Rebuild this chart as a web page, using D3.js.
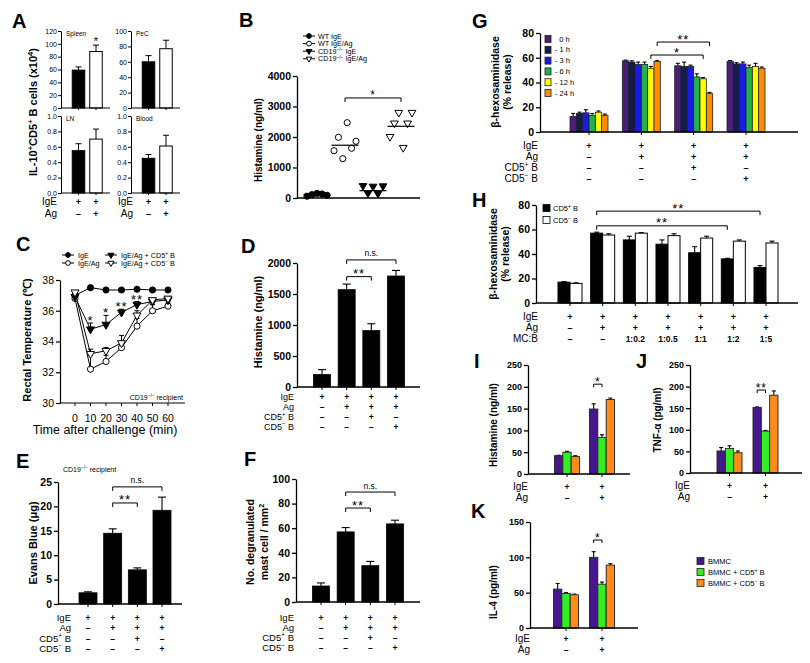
<!DOCTYPE html>
<html><head><meta charset="utf-8">
<script src="https://cdn.jsdelivr.net/npm/d3@7"></script>
<style>body{margin:0;background:#fff}svg{display:block;background:#fff}</style>
</head><body>
<script>
// ================= DATA =================
// Panel A
const aCols = ["IgE", "IgE/Ag"];
const aRowLabels = ["IgE", "Ag"];
const aRowSigns = [["+", "+"], ["–", "+"]];
const aSpleen = [59, 88], aSpleenErr = [5, 10];
const aPeC = [60, 77], aPeCErr = [8, 11];
const aLN = [0.55, 0.70], aLNErr = [0.09, 0.13];
const aBlood = [0.45, 0.61], aBloodErr = [0.05, 0.14];
const aTicksSpleen = [0, 20, 40, 60, 80, 100, 120];
const aTicksPeC = [0, 20, 40, 60, 80, 100];
const aTicksFrac = [0, 0.2, 0.4, 0.6, 0.8, 1.0];
// Panel B
const bGroups = ["WT IgE", "WT IgE/Ag", "CD19{−/−} IgE", "CD19{−/−} IgE/Ag"];
const bWTIgE = [60, 110, 150, 130, 90];
const bWTIgEAg = [1550, 1990, 1290, 2470, 1630, 1860];
const bKOIgE = [400, 160, 380, 150, 390];
const bKOIgEAg = [2010, 2450, 2800, 1650, 2450, 2800];
const bMeans = [100, 1730, 240, 2350];
const bTicks = [0, 1000, 2000, 3000, 4000];
const bSig = [{ a: 1, b: 3, label: "*", at: 3280 }];
// Panel C
const cSeries = ["IgE", "IgE/Ag", "IgE/Ag + CD5{+} B", "IgE/Ag + CD5{−} B"];
const cTimes = [0, 10, 20, 30, 40, 50, 60];
const cIgE = [37.0, 37.5, 37.35, 37.35, 37.4, 37.35, 37.35];
const cIgEAg = [36.8, 32.2, 32.7, 33.6, 35.0, 36.0, 36.3];
const cCD5pos = [36.9, 34.8, 35.1, 35.9, 36.4, 36.6, 36.7];
const cCD5neg = [37.2, 33.2, 33.4, 33.9, 35.7, 36.7, 36.8];
const cIgEErr = [0.1, 0.1, 0.1, 0.1, 0.1, 0.1, 0.1];
const cIgEAgErr = [0.1, 0.9, 0.4, 0.3, 0.5, 0.4, 0.2];
const cCD5posErr = [0.1, 0.4, 0.6, 0.2, 0.2, 0.1, 0.1];
const cCD5negErr = [0.1, 0.3, 0.2, 0.5, 0.3, 0.1, 0.1];
const cStars = [{ t: 10, label: "*" }, { t: 20, label: "*" }, { t: 30, label: "**" }, { t: 40, label: "**" }];
const cTicksY = [30, 32, 34, 36, 38];
// Panels D, E, F (shared treatment table)
const treatCols = ["IgE", "IgE/Ag", "IgE/Ag+CD5+B", "IgE/Ag+CD5−B"];
const treatRowLabels = ["IgE", "Ag", "CD5{+} B", "CD5{−} B"];
const treatSigns = [["+", "+", "+", "+"], ["–", "+", "+", "+"], ["–", "–", "+", "–"], ["–", "–", "–", "+"]];
const dHist = [200, 1570, 910, 1790], dHistErr = [80, 90, 110, 90];
const dTicks = [0, 500, 1000, 1500, 2000];
const dSig = [{ a: 1, b: 2, label: "**", at: 1780 }, { a: 1, b: 3, label: "n.s.", at: 2050 }];
const eEvans = [2.3, 14.5, 7.0, 19.2], eEvansErr = [0.2, 0.9, 0.4, 2.7];
const eTicks = [0, 5, 10, 15, 20, 25];
const eSig = [{ a: 1, b: 2, label: "**", at: 20.7 }, { a: 1, b: 3, label: "n.s.", at: 24.0 }];
const fMast = [13, 57, 29.5, 63.5], fMastErr = [2.5, 3.5, 3.5, 3];
const fTicks = [0, 20, 40, 60, 80, 100];
const fSig = [{ a: 1, b: 2, label: "**", at: 76.4 }, { a: 1, b: 3, label: "n.s.", at: 89.4 }];
// Panel G
const gTimes = ["  0 h", "- 1 h", "- 3 h", "- 6 h", "- 12 h", "- 24 h"];
const g0h = [12.5, 57.5, 53.5, 57], g0hErr = [2.5, 0.6, 2, 0.8];
const gm1h = [15, 56.5, 53, 55], gm1hErr = [1, 1, 3.5, 1];
const gm3h = [15.5, 54.5, 53, 55], gm3hErr = [2.5, 2, 1, 1.5];
const gm6h = [13.5, 54.5, 44.5, 52], gm6hErr = [1.5, 2, 2.5, 2];
const gm12h = [16, 51.5, 43, 53], gm12hErr = [1, 1.5, 1, 2.5];
const gm24h = [13.5, 57, 31, 51.5], gm24hErr = [1, 0.6, 1, 1];
const gTicks = [0, 20, 40, 60, 80];
const gSig = [{ ga: 1, gb: 2, s: 5, label: "**", at: 72.7 }, { ga: 1, gb: 2, s: 4, label: "*", at: 62.2 }];
// Panel H
const hCols = ["c1", "c2", "c3", "c4", "c5", "c6", "c7"];
const hSeries = ["CD5{+} B", "CD5{−} B"];
const hRowLabels = ["IgE", "Ag", "MC:B"];
const hSigns = [["+", "+", "+", "+", "+", "+", "+"], ["–", "+", "+", "+", "+", "+", "+"], ["–", "–", "1:0.2", "1:0.5", "1:1", "1:2", "1:5"]];
const hCD5pos = [17, 57, 51.5, 48, 41, 36, 29], hCD5posErr = [0.5, 0.8, 3, 3.5, 5, 0.5, 1.5];
const hCD5neg = [16, 55.5, 57, 55, 53, 50.5, 49], hCD5negErr = [0.5, 1, 0.5, 1.5, 1.5, 1, 1.5];
const hTicks = [0, 20, 40, 60, 80];
const hSig = [{ ga: 1, gb: 6, label: "**", at: 75 }, { ga: 1, gb: 5, label: "**", at: 63 }];
// Panels I, J, K
const ijkSeries = ["BMMC", "BMMC + CD5{+} B", "BMMC + CD5{−} B"];
const ijkCols = ["IgE", "IgE/Ag"];
const ijkRowLabels = ["IgE", "Ag"];
const ijkSigns = [["+", "+"], ["–", "+"]];
const iBMMC = [42, 149], iBMMCErr = [1, 12];
const iCD5pos = [50, 84], iCD5posErr = [2, 6];
const iCD5neg = [40, 171], iCD5negErr = [2, 3];
const jBMMC = [51, 152], jBMMCErr = [8, 1];
const jCD5pos = [57, 97], jCD5posErr = [6, 1.5];
const jCD5neg = [47, 180], jCD5negErr = [4, 10];
const kBMMC = [55, 100], kBMMCErr = [8, 8];
const kCD5pos = [49, 62], kCD5posErr = [1, 3];
const kCD5neg = [47, 89], kCD5negErr = [1, 2];
const ijTicks = [0, 50, 100, 150, 200, 250];
const kTicks = [0, 50, 100, 150];
const iSig = { label: "*", at: 206 }, jSig = { label: "**", at: 192 }, kSig = { label: "*", at: 124.5 };

// ================= STYLE =================
const FONT = "'Liberation Sans', Arial, Helvetica, sans-serif";
const gColors = ["#4a1f7c", "#141c4c", "#1a1ae6", "#22b14c", "#ffff00", "#ff8c00"];
const ijkColors = ["#46168c", "#33ee22", "#ff8c1a"];

const svg = d3.select("body").append("svg").attr("width", 810).attr("height", 663);

function rich(t, str, fs) {
  const parts = String(str).split(/(\{[^}]*\})/).filter(p => p.length);
  let shifted = false;
  parts.forEach(p => {
    if (p[0] === "{") {
      t.append("tspan").attr("dy", -fs * 0.38).attr("font-size", fs * 0.68).text(p.slice(1, -1));
      shifted = true;
    } else {
      const ts = t.append("tspan").text(p);
      if (shifted) { ts.attr("dy", fs * 0.38); shifted = false; }
    }
  });
}
function T(x, y, str, o = {}) {
  const fs = o.size || 10;
  const t = svg.append("text").attr("x", x).attr("y", y)
    .attr("font-family", FONT).attr("font-size", fs)
    .attr("font-weight", o.bold ? "bold" : "normal")
    .attr("text-anchor", o.anchor || "start").attr("fill", o.fill || "#000")
    .style("white-space", "pre");
  if (o.rotate) t.attr("transform", `rotate(${o.rotate},${x},${y})`);
  if (o.ls) t.attr("letter-spacing", o.ls);
  rich(t, str, fs);
  return t;
}
function line(x1, y1, x2, y2, sw = 1, col = "#000") {
  svg.append("line").attr("x1", x1).attr("y1", y1).attr("x2", x2).attr("y2", y2)
    .attr("stroke", col).attr("stroke-width", sw);
}
function yAxis(x, y, ticks, fmt, o = {}) {
  const g = svg.append("g").attr("transform", `translate(${x},0)`)
    .call(d3.axisLeft(y).tickValues(ticks).tickFormat(fmt).tickSize(o.ts || 4).tickSizeOuter(0).tickPadding(o.pad || 2));
  g.select(".domain").attr("stroke", "#000").attr("stroke-width", o.sw || 1.3);
  g.selectAll(".tick line").attr("stroke", "#000").attr("stroke-width", o.sw || 1.3);
  g.selectAll(".tick text").attr("font-family", FONT).attr("font-size", o.size || 10)
    .attr("font-weight", o.bold === false ? "normal" : "bold").attr("fill", "#000");
  return g;
}
function xBase(x0, x1, y0, centers, o = {}) {
  line(x0, y0, x1, y0, o.sw || 1.3);
  centers.forEach(c => line(c, y0, c, y0 + (o.tl || 3), 1));
}
function bars(cfg) {
  const xg = d3.scalePoint().domain(cfg.groups).range(cfg.centerRange);
  const xi = d3.scaleBand().domain(cfg.series).range([-cfg.groupW / 2, cfg.groupW / 2]).paddingInner(cfg.pad || 0);
  const y = cfg.y;
  cfg.series.forEach((s, si) => {
    cfg.groups.forEach((gname, gi) => {
      const v = cfg.values[si][gi], e = cfg.errs[si][gi];
      const w = xi.bandwidth(), x = xg(gname) + xi(s), cx = x + w / 2;
      const capW = cfg.capW || w * 0.55;
      line(cx, y(v), cx, y(v + e), cfg.esw || 1.1);
      line(cx - capW / 2, y(v + e), cx + capW / 2, y(v + e), cfg.esw || 1.1);
      svg.append("rect").attr("x", x).attr("y", y(v)).attr("width", w).attr("height", y(0) - y(v))
        .attr("fill", typeof cfg.fills === "function" ? cfg.fills(si, gi) : cfg.fills[si])
        .attr("stroke", cfg.stroke || "#000").attr("stroke-width", cfg.sw || 0.8);
    });
  });
  return { xg, xi, centers: cfg.groups.map(g => xg(g)), bx: (gi, si) => xg(cfg.groups[gi]) + xi(cfg.series[si]) + xi.bandwidth() / 2 };
}
function bracket(x1, x2, yb, label, o = {}) {
  const h = o.h || 4;
  svg.append("path").attr("d", `M${x1},${yb + h}V${yb}H${x2}V${yb + h}`)
    .attr("fill", "none").attr("stroke", "#000").attr("stroke-width", 1);
  const star = label.includes("*");
  T((x1 + x2) / 2, star ? yb + 1.5 : yb - 3.5, label, { size: star ? (o.ss || 13) : 8.5, anchor: "middle", ls: star ? 1 : 0 });
}
function rows(labelX, ys, labels, signs, centers, o = {}) {
  labels.forEach((lab, r) => {
    T(labelX, ys[r], lab, { size: o.ls || 10, anchor: "end" });
    signs[r].forEach((s, i) => T(centers[i], ys[r], s, { size: (s.length > 1 ? (o.ms || 8.5) : (o.ss || 9)), bold: true, anchor: "middle" }));
  });
}
function marker(cx, cy, shape, size) {
  svg.append("path")
    .attr("d", d3.symbol().type(shape.tri ? d3.symbolTriangle : d3.symbolCircle).size(size)())
    .attr("transform", `translate(${cx},${cy})${shape.down ? " rotate(180)" : ""}`)
    .attr("fill", shape.fill).attr("stroke", "#000").attr("stroke-width", 1);
}
function letter(x, y, s) { T(x, y, s, { size: 20, bold: true }); }

// ================= PANEL A =================
letter(12, 28, "A");
function aPanel(axisX, y0, yTop, dom, ticks, fmt, vals, errs, name) {
  const y = d3.scaleLinear().domain(dom).range([y0, yTop]);
  yAxis(axisX, y, ticks, fmt, { size: 7, bold: false, ts: 3, sw: 1, pad: 1 });
  const r = bars({ groups: aCols, centerRange: [axisX + 17.5, axisX + 35], series: ["v"], values: [vals], errs: [errs],
    fills: (si, gi) => gi ? "#fff" : "#000", groupW: 12.5, y, sw: 1, capW: 6, esw: 1 });
  xBase(axisX, axisX + 49, y0, r.centers, { sw: 1, tl: 2 });
  T(axisX + 5, yTop + 5, name, { size: 6.5 });
  return { y, r };
}
const aS = aPanel(61, 108, 31, [0, 120], aTicksSpleen, d3.format("d"), aSpleen, aSpleenErr, "Spleen");
T(aS.r.centers[1], aS.y(aSpleen[1] + aSpleenErr[1]) - 0.5, "*", { size: 11, anchor: "middle" });
aPanel(131, 108, 31, [0, 100], aTicksPeC, d3.format("d"), aPeC, aPeCErr, "PeC");
const aL = aPanel(61, 193, 116, [0, 1], aTicksFrac, d3.format(".1f"), aLN, aLNErr, "LN");
const aB = aPanel(131, 193, 116, [0, 1], aTicksFrac, d3.format(".1f"), aBlood, aBloodErr, "Blood");
rows(57, [205, 216.5], aRowLabels, aRowSigns, aL.r.centers, { ls: 10, ss: 9 });
rows(133, [205, 216.5], aRowLabels, aRowSigns, aB.r.centers, { ls: 10, ss: 9 });
T(37, 112, "IL-10{+}CD5{+} B cells (x10{4})", { size: 11, bold: true, anchor: "middle", rotate: -90 });

// ================= PANEL B =================
letter(239, 27, "B");
{
  const y = d3.scaleLinear().domain([0, 4000]).range([198, 76]);
  yAxis(297, y, bTicks, d3.format("d"), { size: 10.5 });
  const x = d3.scalePoint().domain(bGroups).range([317, 401]);
  line(297, 198, 420, 198, 1.3);
  const sets = [bWTIgE, bWTIgEAg, bKOIgE, bKOIgEAg];
  const shapes = [{ fill: "#000" }, { fill: "#fff" }, { tri: 1, down: 1, fill: "#000" }, { tri: 1, down: 1, fill: "#fff" }];
  sets.forEach((vals, gi) => {
    const n = vals.length, spread = gi % 2 ? 22 : 20;
    vals.forEach((v, i) => marker(x(bGroups[gi]) + (i / (n - 1) - 0.5) * spread, y(v), shapes[gi], gi < 2 ? 30 : 26));
    line(x(bGroups[gi]) - 13.5, y(bMeans[gi]), x(bGroups[gi]) + 13.5, y(bMeans[gi]), 1.2);
  });
  bSig.forEach(s => bracket(x(bGroups[s.a]), x(bGroups[s.b]), y(s.at), s.label, { ss: 12 }));
  // legend
  bGroups.forEach((nm, i) => {
    const ly = 36 + i * 7.6;
    line(303, ly, 315, ly, 1);
    marker(309, ly, shapes[i], i < 2 ? 18 : 14);
    T(318, ly + 2.6, nm, { size: 7.2 });
  });
  T(262, 140, "Histamine (ng/ml)", { size: 10, bold: true, anchor: "middle", rotate: -90 });
}

// ================= PANEL C =================
letter(16, 251, "C");
{
  const x = d3.scaleLinear().domain([0, 60]).range([75, 168]);
  const y = d3.scaleLinear().domain([30, 38]).range([403, 280]);
  yAxis(60, y, cTicksY, d3.format("d"), { size: 10.5, bold: false, ts: 4, sw: 1.2 });
  line(60, 403, 185, 403, 1.2);
  cTimes.forEach(t => {
    line(x(t), 403, x(t), 406, 1);
    T(x(t), 422, String(t), { size: 10.5, anchor: "middle" });
  });
  T(105, 434, "Time after challenge (min)", { size: 12.5, anchor: "middle" });
  T(31, 340, "Rectal Temperature (℃)", { size: 11, bold: true, anchor: "middle", rotate: -90 });
  const series = [cIgE, cIgEAg, cCD5pos, cCD5neg];
  const errs = [cIgEErr, cIgEAgErr, cCD5posErr, cCD5negErr];
  const shapes = [{ fill: "#000" }, { fill: "#fff" }, { tri: 1, down: 1, fill: "#000" }, { tri: 1, down: 1, fill: "#fff" }];
  const ln = d3.line().x((d, i) => x(cTimes[i])).y(d => y(d));
  series.forEach(s => svg.append("path").attr("d", ln(s)).attr("fill", "none").attr("stroke", "#000").attr("stroke-width", 1));
  series.forEach((s, si) => s.forEach((v, i) => {
    const e = errs[si][i];
    line(x(cTimes[i]), y(v), x(cTimes[i]), y(v + e), 1);
    line(x(cTimes[i]) - 2.5, y(v + e), x(cTimes[i]) + 2.5, y(v + e), 1);
  }));
  series.forEach((s, si) => s.forEach((v, i) => marker(x(cTimes[i]), y(v), shapes[si], si < 2 ? 30 : 28)));
  cStars.forEach(st => {
    const i = cTimes.indexOf(st.t);
    T(x(st.t), y(cCD5pos[i] + cCD5posErr[i]) + 2, st.label, { size: 13, anchor: "middle", ls: 1 });
  });
  T(183, 400, "CD19{−/−} recipient", { size: 7, anchor: "end" });
  // legend
  const lpos = [[62, 255], [62, 263], [105, 255], [105, 263]];
  cSeries.forEach((nm, i) => {
    const [lx, ly] = lpos[i];
    line(lx, ly, lx + 12, ly, 1);
    marker(lx + 6, ly, shapes[i], i < 2 ? 18 : 16);
    T(lx + 16, ly + 2.6, nm, { size: 7.2 });
  });
}

// ================= PANEL D =================
letter(241, 253, "D");
{
  const y = d3.scaleLinear().domain([0, 2000]).range([387, 263]);
  yAxis(297, y, dTicks, d3.format("d"), { size: 10.5 });
  const r = bars({ groups: treatCols, centerRange: [322, 396], series: ["v"], values: [dHist], errs: [dHistErr], fills: ["#000"], groupW: 17, y, capW: 8 });
  xBase(297, 420, 387, r.centers);
  dSig.forEach(s => bracket(r.centers[s.a], r.centers[s.b], y(s.at), s.label));
  rows(294, [399.5, 409.5, 419.5, 429.5], treatRowLabels, treatSigns, r.centers, { ls: 9, ss: 8.5 });
  T(262, 322, "Histamine (ng/ml)", { size: 11, bold: true, anchor: "middle", rotate: -90 });
}

// ================= PANEL E =================
letter(16, 468, "E");
{
  const y = d3.scaleLinear().domain([0, 25]).range([604, 482]);
  yAxis(58, y, eTicks, d3.format("d"), { size: 10.5 });
  const r = bars({ groups: treatCols, centerRange: [88, 162], series: ["v"], values: [eEvans], errs: [eEvansErr], fills: ["#000"], groupW: 18, y, capW: 8 });
  xBase(58, 182, 604, r.centers);
  eSig.forEach(s => bracket(r.centers[s.a], r.centers[s.b], y(s.at), s.label));
  rows(71, [621, 631.3, 641.6, 651.9], treatRowLabels, treatSigns, r.centers, { ls: 9.5, ss: 8.5 });
  T(37, 543, "Evans Blue (μg)", { size: 11, bold: true, anchor: "middle", rotate: -90 });
  T(63, 472, "CD19{−/−} recipient", { size: 7 });
}

// ================= PANEL F =================
letter(244, 466, "F");
{
  const y = d3.scaleLinear().domain([0, 100]).range([602, 479]);
  yAxis(296, y, fTicks, d3.format("d"), { size: 10.5 });
  const r = bars({ groups: treatCols, centerRange: [321, 395], series: ["v"], values: [fMast], errs: [fMastErr], fills: ["#000"], groupW: 17, y, capW: 8 });
  xBase(296, 420, 602, r.centers);
  fSig.forEach(s => bracket(r.centers[s.a], r.centers[s.b], y(s.at), s.label));
  rows(294, [620.5, 630.8, 641.1, 651.4], treatRowLabels, treatSigns, r.centers, { ls: 9.5, ss: 8.5 });
  T(254, 542, "No. degranulated", { size: 10.5, bold: true, anchor: "middle", rotate: -90 });
  T(268, 542, "mast cell / mm{2}", { size: 10.5, bold: true, anchor: "middle", rotate: -90 });
}

// ================= PANEL G =================
letter(472, 28, "G");
{
  const y = d3.scaleLinear().domain([0, 80]).range([132, 33]);
  yAxis(540, y, gTicks, d3.format("d"), { size: 10.5 });
  const vals = [g0h, gm1h, gm3h, gm6h, gm12h, gm24h];
  const errs = [g0hErr, gm1hErr, gm3hErr, gm6hErr, gm12hErr, gm24hErr];
  const r = bars({ groups: treatCols, centerRange: [589, 746], series: gTimes, values: vals, errs, fills: gColors, groupW: 38, y, capW: 4, sw: 0.8, stroke: "#222" });
  xBase(540, 798, 132, r.centers);
  gSig.forEach(s => bracket(r.bx(s.ga, s.s), r.bx(s.gb, s.s), y(s.at), s.label));
  rows(538, [148.5, 159.5, 170.5, 181.5], treatRowLabels, treatSigns, r.centers, { ls: 10, ss: 9 });
  gTimes.forEach((nm, i) => {
    const ly = 39 + i * 10.8;
    svg.append("rect").attr("x", 545).attr("y", ly - 3.5).attr("width", 6).attr("height", 7).attr("fill", gColors[i]).attr("stroke", "#222").attr("stroke-width", 0.8);
    T(555, ly + 2.6, nm, { size: 7.5 });
  });
  T(499, 82, "β-hexosaminidase", { size: 10.5, bold: true, anchor: "middle", rotate: -90 });
  T(511, 82, "(% release)", { size: 10.5, bold: true, anchor: "middle", rotate: -90 });
}

// ================= PANEL H =================
letter(472, 207, "H");
{
  const y = d3.scaleLinear().domain([0, 80]).range([303, 205]);
  yAxis(536, y, hTicks, d3.format("d"), { size: 10.5 });
  const r = bars({ groups: hCols, centerRange: [570, 766], series: hSeries, values: [hCD5pos, hCD5neg], errs: [hCD5posErr, hCD5negErr], fills: ["#000", "#fff"], groupW: 24, y, capW: 5, sw: 1 });
  xBase(536, 798, 303, r.centers);
  hSig.forEach(s => bracket(r.bx(s.ga, 0), r.bx(s.gb, 0), y(s.at), s.label));
  rows(538, [319.5, 330.5, 341.5], hRowLabels, hSigns, r.centers, { ls: 10, ss: 9, ms: 8.5 });
  hSeries.forEach((nm, i) => {
    const ly = 208 + i * 12;
    svg.append("rect").attr("x", 543).attr("y", ly - 3.5).attr("width", 7).attr("height", 7).attr("fill", i ? "#fff" : "#000").attr("stroke", "#000").attr("stroke-width", 0.8);
    T(553, ly + 2.6, nm, { size: 7.5 });
  });
  T(497, 254, "β-hexosaminidase", { size: 10.5, bold: true, anchor: "middle", rotate: -90 });
  T(509, 254, "(% release)", { size: 10.5, bold: true, anchor: "middle", rotate: -90 });
}

// ================= PANELS I, J, K =================
function ijkPanel(axisX, xEnd, y0, yTop, dom, ticks, centerRange, vals, errs, sig, rowYs, title, titleX, titleY) {
  const y = d3.scaleLinear().domain(dom).range([y0, yTop]);
  yAxis(axisX, y, ticks, d3.format("d"), { size: 9 });
  const r = bars({ groups: ijkCols, centerRange, series: ijkSeries, values: vals, errs, fills: ijkColors, groupW: 25, y, capW: 4, sw: 0.9, stroke: "#222" });
  xBase(axisX, xEnd, y0, r.centers);
  bracket(r.bx(1, 0), r.bx(1, 1), y(sig.at), sig.label, { h: 3, ss: 12 });
  rows(axisX, rowYs, ijkRowLabels, ijkSigns, r.centers, { ls: 10, ss: 8.5 });
  T(titleX, titleY, title, { size: 10, bold: true, anchor: "middle", rotate: -90 });
}
letter(474, 368, "I");
ijkPanel(528, 630, 474, 365, [0, 250], ijTicks, [567, 602], [iBMMC, iCD5pos, iCD5neg], [iBMMCErr, iCD5posErr, iCD5negErr], iSig, [489.5, 501], "Histamine (ng/ml)", 497, 425);
letter(636, 368, "J");
ijkPanel(690, 802, 473, 365, [0, 250], ijTicks, [729.5, 765.5], [jBMMC, jCD5pos, jCD5neg], [jBMMCErr, jCD5posErr, jCD5negErr], jSig, [488.5, 500], "TNF-α (pg/ml)", 661, 420);
letter(471, 518, "K");
ijkPanel(530, 638, 628, 522, [0, 150], kTicks, [566, 602], [kBMMC, kCD5pos, kCD5neg], [kBMMCErr, kCD5posErr, kCD5negErr], kSig, [641.5, 653], "IL-4 (pg/ml)", 497, 592);
ijkSeries.forEach((nm, i) => {
  const ly = 561 + i * 11;
  svg.append("rect").attr("x", 697).attr("y", ly - 3.5).attr("width", 7).attr("height", 7).attr("fill", ijkColors[i]).attr("stroke", "#222").attr("stroke-width", 0.8);
  T(708, ly + 2.6, nm, { size: 7.5 });
});
</script>
</body></html>
